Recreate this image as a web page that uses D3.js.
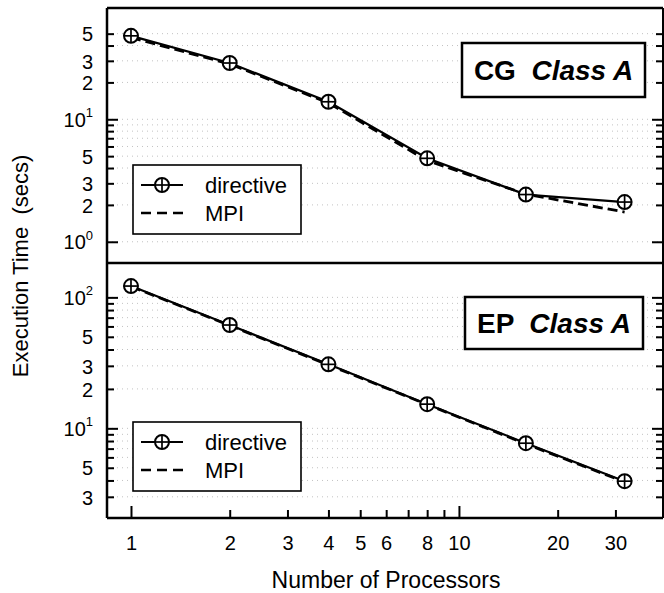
<!DOCTYPE html>
<html>
<head>
<meta charset="utf-8">
<script src="https://cdn.jsdelivr.net/npm/d3@7"></script>
<style>
  html, body { margin: 0; padding: 0; background: #fff; }
  svg { display: block; }
  text { font-family: "Liberation Sans", Arial, Helvetica, sans-serif; fill: #000; }
</style>
</head>
<body>
<svg id="chart" width="664" height="593"></svg>
<script>
// ---------------- data ----------------
const processors = [1, 2, 4, 8, 16, 32];
const cgDirective = [48, 28.8, 13.9, 4.8, 2.43, 2.11];
const cgMPI       = [46.5, 28.3, 13.6, 4.6, 2.45, 1.75];
const epDirective = [122, 61.5, 30.8, 15.3, 7.7, 3.95];
const epMPI       = [121, 61, 30.5, 15.2, 7.6, 3.9];

const xTickValues = [1, 2, 3, 4, 5, 6, 7, 8, 9, 10, 20, 30];
const xTickLabels = [1, 2, 3, 4, 5, 6, 8, 10, 20, 30];
const cgTickValues = [1, 2, 3, 4, 5, 6, 7, 8, 9, 10, 20, 30, 40, 50];
const cgTickLabels = [1, 2, 3, 5, 10, 20, 30, 50];
const epTickValues = [3, 4, 5, 6, 7, 8, 9, 10, 20, 30, 40, 50, 60, 70, 80, 90, 100];
const epTickLabels = [3, 5, 10, 20, 30, 50, 100];
const seriesNames = ["directive", "MPI"];
const panelTitles = [["CG", "Class A"], ["EP", "Class A"]];
const xTitle = "Number of Processors";
const yTitle = "Execution Time  (secs)";

// ---------------- layout ----------------
const L = 107, R = 663, T = 8, MID = 263, B = 518;
const svg = d3.select("#chart");

const x = d3.scaleLog().domain([0.845, 41.9]).range([L, R]);
const yTop = d3.scaleLog().domain([0.671, 81.0]).range([MID, T]);
const yBot = d3.scaleLog().domain([2.067, 183]).range([B, MID]);

const isDecade = v => Math.abs(Math.log10(v) - Math.round(Math.log10(v))) < 1e-9;
const leadDigit = v => String(Math.round(v / Math.pow(10, Math.floor(Math.log10(v) + 1e-9))));

// gridlines
function grid(y, vals) {
  svg.append("g").selectAll("line").data(vals).join("line")
    .attr("x1", L).attr("x2", R)
    .attr("y1", d => y(d)).attr("y2", d => y(d))
    .attr("stroke", "#c2c2c2").attr("stroke-width", 1)
    .attr("stroke-dasharray", "1,4");
}
grid(yTop, cgTickValues);
grid(yBot, epTickValues);

// y axes
function yAxes(y, vals, labels) {
  const gL = svg.append("g").attr("transform", `translate(${L},0)`)
    .call(d3.axisLeft(y).tickValues(vals).tickSize(-6).tickSizeOuter(0).tickPadding(14)
      .tickFormat(d => labels.includes(d) ? (isDecade(d) ? "10" : leadDigit(d)) : ""));
  gL.select(".domain").remove();
  gL.selectAll(".tick line").attr("stroke", "#000").attr("stroke-width", 2)
    .attr("x2", d => isDecade(d) ? 11 : 7);
  gL.selectAll(".tick text").attr("font-size", 20).attr("fill", "#000")
    .attr("dy", "0.36em")
    .each(function(d) {
      if (labels.includes(d) && isDecade(d)) {
        d3.select(this).append("tspan").attr("font-size", 13).attr("dy", "-0.75em")
          .text(String(Math.round(Math.log10(d))));
      }
    });
  const gR = svg.append("g").attr("transform", `translate(${R},0)`)
    .call(d3.axisRight(y).tickValues(vals).tickSize(-6).tickSizeOuter(0).tickFormat(""));
  gR.select(".domain").remove();
  gR.selectAll(".tick line").attr("stroke", "#000").attr("stroke-width", 2)
    .attr("x2", d => isDecade(d) ? -11 : -7);
}
yAxes(yTop, cgTickValues, cgTickLabels);
yAxes(yBot, epTickValues, epTickLabels);

// x axis
const gx = svg.append("g").attr("transform", `translate(0,${B})`)
  .call(d3.axisBottom(x).tickValues(xTickValues).tickSize(-7).tickSizeOuter(0).tickPadding(18)
    .tickFormat(d => xTickLabels.includes(d) ? String(d) : ""));
gx.select(".domain").remove();
gx.selectAll(".tick line").attr("stroke", "#000").attr("stroke-width", 2)
  .attr("y2", d => isDecade(d) ? -12 : -8);
gx.selectAll(".tick text").attr("font-size", 20).attr("fill", "#000");

// frame
const frame = svg.append("g").attr("stroke", "#000").attr("fill", "none");
frame.append("line").attr("x1", L).attr("x2", L).attr("y1", T).attr("y2", B).attr("stroke-width", 2.5);
frame.append("line").attr("x1", R).attr("x2", R).attr("y1", T).attr("y2", B).attr("stroke-width", 2);
frame.append("line").attr("x1", L).attr("x2", R).attr("y1", T).attr("y2", T).attr("stroke-width", 2.5);
frame.append("line").attr("x1", L).attr("x2", R).attr("y1", MID).attr("y2", MID).attr("stroke-width", 2.5);
frame.append("line").attr("x1", L).attr("x2", R).attr("y1", B).attr("y2", B).attr("stroke-width", 2.5);

// markers
function marker(g, cx, cy) {
  const r = 7;
  g.append("circle").attr("cx", cx).attr("cy", cy).attr("r", r)
    .attr("fill", "#fff").attr("stroke", "#000").attr("stroke-width", 2);
  g.append("line").attr("x1", cx - r).attr("x2", cx + r).attr("y1", cy).attr("y2", cy)
    .attr("stroke", "#000").attr("stroke-width", 1.7);
  g.append("line").attr("x1", cx).attr("x2", cx).attr("y1", cy - r).attr("y2", cy + r)
    .attr("stroke", "#000").attr("stroke-width", 1.7);
}

// series
function panel(y, dir, mpi) {
  const line = d3.line().x((d, i) => x(processors[i])).y(d => y(d));
  const g = svg.append("g");
  g.append("path").datum(mpi).attr("d", line).attr("fill", "none")
    .attr("stroke", "#000").attr("stroke-width", 2.8).attr("stroke-dasharray", "10,5");
  g.append("path").datum(dir).attr("d", line).attr("fill", "none")
    .attr("stroke", "#000").attr("stroke-width", 2.2);
  dir.forEach((v, i) => marker(g, x(processors[i]), y(v)));
}
panel(yTop, cgDirective, cgMPI);
panel(yBot, epDirective, epMPI);

// legends
function legend(top) {
  const g = svg.append("g");
  g.append("rect").attr("x", 133).attr("y", top).attr("width", 168).attr("height", 69)
    .attr("fill", "#fff").attr("stroke", "#000").attr("stroke-width", 1.6);
  const r1 = top + 20, r2 = top + 48;
  g.append("line").attr("x1", 141).attr("x2", 183).attr("y1", r1).attr("y2", r1)
    .attr("stroke", "#000").attr("stroke-width", 1.8);
  marker(g, 162, r1);
  g.append("line").attr("x1", 141).attr("x2", 183).attr("y1", r2).attr("y2", r2)
    .attr("stroke", "#000").attr("stroke-width", 2.4).attr("stroke-dasharray", "10,6");
  g.append("text").attr("x", 205).attr("y", r1).attr("dy", "0.36em").attr("font-size", 22).text(seriesNames[0]);
  g.append("text").attr("x", 205).attr("y", r2).attr("dy", "0.36em").attr("font-size", 22).text(seriesNames[1]);
}
legend(165);
legend(422);

// panel titles
function titleBox(x0, y0, w, h, parts) {
  const g = svg.append("g");
  g.append("rect").attr("x", x0).attr("y", y0).attr("width", w).attr("height", h)
    .attr("fill", "#fff").attr("stroke", "#000").attr("stroke-width", 2.5);
  const t = g.append("text").attr("x", x0 + w / 2).attr("y", y0 + h / 2).attr("dy", "0.36em")
    .attr("text-anchor", "middle").attr("font-size", 28).attr("font-weight", "bold")
    .style("white-space", "pre");
  t.append("tspan").text(parts[0] + "  ");
  t.append("tspan").attr("font-style", "italic").text(parts[1]);
}
titleBox(462, 43, 183, 54, panelTitles[0]);
titleBox(465, 297, 178, 52, panelTitles[1]);

// axis titles
svg.append("text").attr("x", 386).attr("y", 588).attr("text-anchor", "middle")
  .attr("font-size", 23).attr("fill", "#000").text(xTitle);
svg.append("text").attr("transform", "translate(28,266) rotate(-90)")
  .attr("text-anchor", "middle").attr("font-size", 22).attr("fill", "#000")
  .style("white-space", "pre").text(yTitle);
</script>
</body>
</html>
